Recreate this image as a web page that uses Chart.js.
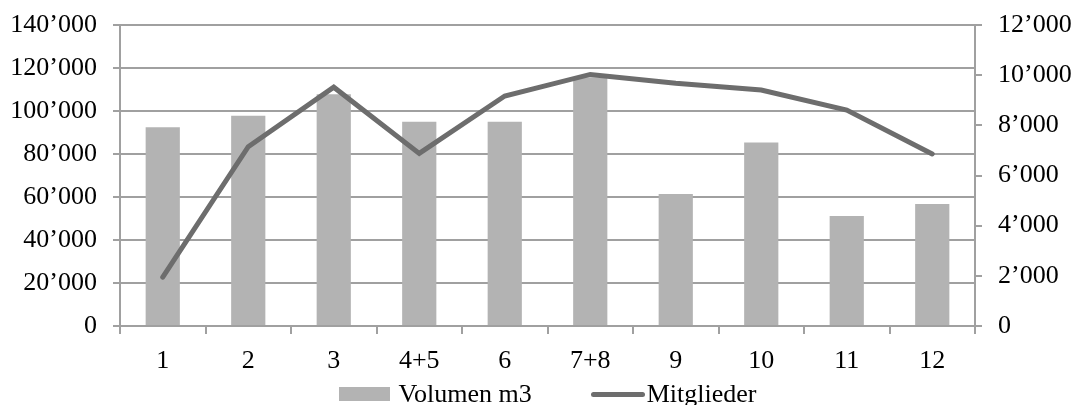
<!DOCTYPE html>
<html>
<head>
<meta charset="utf-8">
<script src="https://cdn.jsdelivr.net/npm/chart.js@4.4.1/dist/chart.umd.min.js"></script>
<style>
html, body { margin: 0; padding: 0; background: #fff; }
#wrap { position: relative; width: 1075px; height: 405px; overflow: hidden; }
#legend {
  position: absolute; top: 381px; height: 26px;
  display: flex; justify-content: center; align-items: center;
  font-family: "Liberation Serif", "Times New Roman", serif; font-size: 26px; line-height: 26px; color: #000;
  white-space: nowrap;
}
.item { display: flex; align-items: center; }
.item + .item { margin-left: 59px; }
.mk-box { width: 51px; height: 14px; margin-right: 9px; }
.mk-line { width: 54px; height: 5px; border-radius: 3px; margin-right: 2px; }
</style>
</head>
<body>
<div id="wrap">
  <canvas id="chartCanvas" width="1075" height="405"></canvas>
  <div id="legend"></div>
</div>
<script>
// data
var categories = ['1', '2', '3', '4+5', '6', '7+8', '9', '10', '11', '12'];
var volumen = [92400, 97800, 107800, 95000, 95000, 115700, 61400, 85300, 51200, 56800];
var mitglieder = [1950, 7150, 9520, 6880, 9170, 10030, 9680, 9410, 8610, 6860];

var gridColor = '#a0a0a0';
var fontFamily = '"Liberation Serif", "Times New Roman", serif';

function fmt(v) {
    // swiss thousands separator
    return String(v).replace(/\B(?=(\d{3})+(?!\d))/g, '\u2019');
}

// fixed axis sizes, no extra room for the end labels
function fixY(w) {
    return function(scale) {
        scale.width = w;
        scale.paddingTop = 0;
        scale.paddingBottom = 0;
    };
}

// html legend, built from the datasets
var htmlLegend = {
    id: 'htmlLegend',
    afterUpdate: function(chart) {
        var box = document.getElementById('legend');
        var area = chart.chartArea;
        box.style.left = area.left + 'px';
        box.style.width = (area.right - area.left) + 'px';
        box.innerHTML = '';
        chart.data.datasets.forEach(function(ds) {
            var item = document.createElement('div');
            item.className = 'item';
            var mk = document.createElement('span');
            if (ds.type === 'line') {
                mk.className = 'mk-line';
                mk.style.background = ds.borderColor;
            } else {
                mk.className = 'mk-box';
                mk.style.background = ds.backgroundColor;
            }
            var txt = document.createElement('span');
            txt.textContent = ds.label;
            item.appendChild(mk);
            item.appendChild(txt);
            box.appendChild(item);
        });
    }
};

var ctx = document.getElementById('chartCanvas');

var myChart = new Chart(ctx, {
    data: {
        labels: categories,
        datasets: [{
            type: 'bar',
            label: 'Volumen m3',
            data: volumen,
            backgroundColor: '#b3b3b3',
            borderWidth: 0,
            barPercentage: 0.4,
            categoryPercentage: 1,
            yAxisID: 'y',
            order: 2
        },
        {
            type: 'line',
            label: 'Mitglieder',
            data: mitglieder,
            borderColor: '#6d6d6d',
            backgroundColor: '#6d6d6d',
            borderWidth: 5,
            borderCapStyle: 'round',
            pointRadius: 0,
            tension: 0,
            yAxisID: 'y1',
            order: 1
        }]
    },
    options: {
        responsive: false,
        animation: false,
        devicePixelRatio: 1,
        layout: {
            padding: { left: 11, right: 4, top: 25, bottom: 29 }
        },
        scales: {
            x: {
                offset: true,
                grid: { offset: true, drawOnChartArea: false, color: gridColor, tickLength: 8, lineWidth: 2 },
                border: { color: gridColor, width: 2 },
                ticks: { color: '#000', padding: 12, font: { family: fontFamily, size: 26 } },
                afterFit: function(scale) { scale.height = 50; }
            },
            y: {
                position: 'left',
                min: 0,
                max: 140000,
                grid: { color: gridColor, tickLength: 7, lineWidth: 2 },
                border: { color: gridColor, width: 2 },
                ticks: {
                    stepSize: 20000, color: '#000', padding: 16,
                    font: { family: fontFamily, size: 26 },
                    callback: function(v) { return fmt(v); }
                },
                afterFit: fixY(109)
            },
            y1: {
                position: 'right',
                min: 0,
                max: 12000,
                grid: { drawOnChartArea: false, color: gridColor, tickLength: 7, lineWidth: 2 },
                border: { color: gridColor, width: 2 },
                ticks: {
                    stepSize: 2000, color: '#000', padding: 16,
                    font: { family: fontFamily, size: 26 },
                    callback: function(v) { return fmt(v); }
                },
                afterFit: fixY(96)
            }
        },
        plugins: {
            legend: { display: false },
            tooltip: { enabled: false }
        }
    },
    plugins: [htmlLegend]
});
</script>
</body>
</html>
